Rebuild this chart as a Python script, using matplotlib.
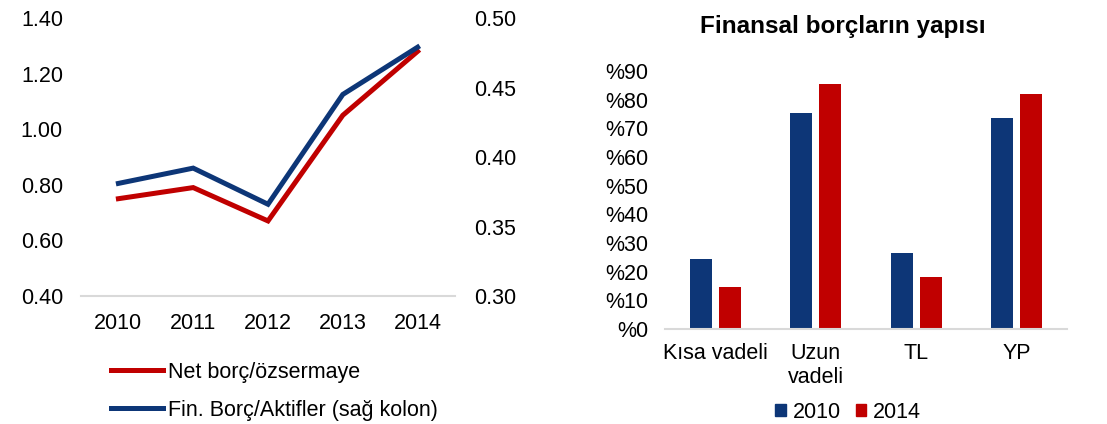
import numpy as np
import matplotlib
matplotlib.use("Agg")
import matplotlib.pyplot as plt
from matplotlib.lines import Line2D
from matplotlib.patches import Patch

plt.rcParams['font.family'] = ['Liberation Sans', 'DejaVu Sans']

# left chart data
years = ["2010", "2011", "2012", "2013", "2014"]
net_borc = [0.75, 0.79, 0.67, 1.05, 1.28]          # left axis
fin_borc = [0.381, 0.392, 0.366, 0.445, 0.479]     # right axis (sağ kolon)

# right chart data
categories = ["Kısa vadeli", "Uzun\nvadeli", "TL", "YP"]
share_2010 = [24.5, 75.5, 26.5, 73.5]
share_2014 = [14.5, 85.5, 18.0, 82.0]

RED = "#C00000"
BLUE = "#0D3677"
GRID = "#D9D9D9"
FS = 15.5

fig = plt.figure(figsize=(11.07, 4.24), dpi=100)

# ---- left: line chart with twin axis
ax = fig.add_axes([81/1107, 1 - 296/424, 374/1107, 278/424])
ax2 = ax.twinx()
x = np.arange(len(years))
ax.plot(x, net_borc, color=RED, lw=3.6, solid_joinstyle='miter', zorder=3)
ax2.plot(x, fin_borc, color=BLUE, lw=3.6, solid_joinstyle='miter', zorder=3)

ax.set_xlim(-0.5, len(years) - 0.5)
ax.set_ylim(0.4, 1.4)
ax.set_yticks(np.arange(0.4, 1.41, 0.2))
ax.set_yticklabels([f"{v:.2f}" for v in np.arange(0.4, 1.41, 0.2)])
ax2.set_ylim(0.30, 0.50)
ax2.set_yticks(np.arange(0.30, 0.501, 0.05))
ax2.set_yticklabels([f"{v:.2f}" for v in np.arange(0.30, 0.501, 0.05)])
ax.set_xticks(x)
ax.set_xticklabels(years)

for a in (ax, ax2):
    for s in a.spines.values():
        s.set_visible(False)
ax.spines['bottom'].set_visible(True)
ax.spines['bottom'].set_color(GRID)
ax.spines['bottom'].set_linewidth(1.5)
ax.tick_params(axis='x', length=0, pad=12, labelsize=FS)
ax.tick_params(axis='y', length=0, pad=13, labelsize=FS)
ax2.tick_params(axis='y', length=0, pad=14, labelsize=FS)

handles = [Line2D([], [], color=RED, lw=3.6),
           Line2D([], [], color=BLUE, lw=3.6)]
fig.legend(handles, ["Net borç/özsermaye", "Fin. Borç/Aktifler (sağ kolon)"],
           loc='upper left', bbox_to_anchor=(102/1107, 1 - 353/424),
           frameon=False, fontsize=FS, handlelength=2.45, handletextpad=0.2,
           labelspacing=0.8, borderaxespad=0)

# ---- right: grouped bar chart
bx = fig.add_axes([665/1107, 1 - 329/424, 402/1107, 258/424])
xc = np.arange(len(categories))
w = 0.22
bx.bar(xc - 0.145, share_2010, w, color=BLUE, label="2010", zorder=2)
bx.bar(xc + 0.145, share_2014, w, color=RED, label="2014", zorder=2)
bx.set_xlim(-0.5, len(categories) - 0.5)
bx.set_ylim(0, 90)
bx.set_yticks(np.arange(0, 91, 10))
bx.set_yticklabels([f"%{v}" for v in range(0, 91, 10)])
bx.set_xticks(xc)
bx.set_xticklabels(categories, linespacing=1.2, va='top')
for s in bx.spines.values():
    s.set_visible(False)
bx.spines['bottom'].set_visible(True)
bx.spines['bottom'].set_color(GRID)
bx.spines['bottom'].set_linewidth(1.5)
bx.tick_params(axis='x', length=0, pad=10, labelsize=FS)
bx.tick_params(axis='y', length=0, pad=12, labelsize=FS)
bx.set_title("Finansal borçların yapısı", fontsize=17.5, fontweight='bold',
             pad=0, x=(843 - 665)/402, y=1 + 38/258)

leg_handles = [Patch(color=BLUE), Patch(color=RED)]
fig.legend(leg_handles, ["2010", "2014"], loc='center',
           bbox_to_anchor=(848/1107, 1 - 412/424), ncol=2, frameon=False,
           fontsize=FS, handlelength=0.5, handleheight=0.5,
           handletextpad=0.3, columnspacing=0.7, borderaxespad=0)

fig.savefig("out.png", dpi=100)
